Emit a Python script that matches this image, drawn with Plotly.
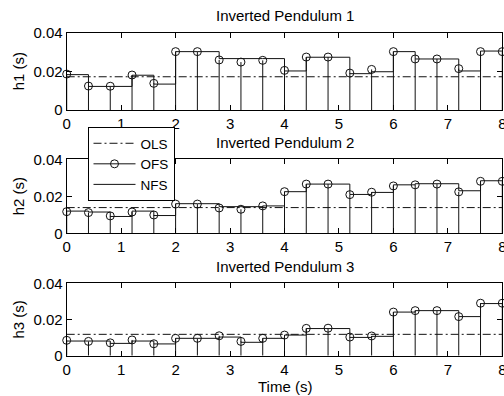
import plotly.graph_objects as go

W, H = 504, 396

# ---------------- data ----------------
t = [round(0.4 * i, 1) for i in range(21)]

titles = ["Inverted Pendulum 1", "Inverted Pendulum 2", "Inverted Pendulum 3"]
ylabels = ["h1 (s)", "h2 (s)", "h3 (s)"]

ols = [0.0172, 0.0139, 0.0118]

ofs1 = [0.0186, 0.0124, 0.0123, 0.0181, 0.0138, 0.0302, 0.0302, 0.0259, 0.0248, 0.0257, 0.0205,
        0.0274, 0.0274, 0.0191, 0.0210, 0.0302, 0.0264, 0.0264, 0.0214, 0.0302, 0.0302]
nfs1 = [0.0183, 0.0122, 0.0122, 0.0180, 0.0134, 0.0302, 0.0302, 0.0266, 0.0266, 0.0266, 0.0202,
        0.0273, 0.0273, 0.0188, 0.0198, 0.0302, 0.0264, 0.0264, 0.0202, 0.0305, 0.0305]

ofs2 = [0.0117, 0.0112, 0.0094, 0.0115, 0.0099, 0.0158, 0.0158, 0.0137, 0.0130, 0.0148, 0.0225,
        0.0266, 0.0266, 0.0209, 0.0222, 0.0256, 0.0262, 0.0266, 0.0224, 0.0281, 0.0281]
nfs2 = [0.0120, 0.0115, 0.0091, 0.0120, 0.0096, 0.0160, 0.0160, 0.0144, 0.0144, 0.0148, 0.0225,
        0.0266, 0.0266, 0.0210, 0.0221, 0.0262, 0.0268, 0.0268, 0.0230, 0.0284, 0.0284]

ofs3 = [0.0085, 0.0079, 0.0071, 0.0087, 0.0066, 0.0096, 0.0096, 0.0110, 0.0079, 0.0096, 0.0114,
        0.0151, 0.0152, 0.0103, 0.0109, 0.0241, 0.0249, 0.0249, 0.0216, 0.0290, 0.0290]
nfs3 = [0.0081, 0.0081, 0.0068, 0.0081, 0.0065, 0.0096, 0.0096, 0.0103, 0.0074, 0.0096, 0.0114,
        0.0150, 0.0150, 0.0101, 0.0107, 0.0241, 0.0249, 0.0249, 0.0216, 0.0288, 0.0288]

ofs_all = [ofs1, ofs2, ofs3]
nfs_all = [nfs1, nfs2, nfs3]

x_ticks = [0, 1, 2, 3, 4, 5, 6, 7, 8]
y_ticks = [0, 0.02, 0.04]
y_ticktext = ["0", "0.02", "0.04"]

# ---------------- layout helpers ----------------
FONT = "Liberation Sans, Arial, sans-serif"
FS = 15
INK = "#111111"
DASHDOT = "8px,3px,2px,3px"

def px_x(p):
    return p / W

def px_y(p):
    return 1 - p / H

# pixel boxes of the three axes (top, bottom)
boxes = [(32.7, 110.0), (159.3, 233.3), (283.3, 355.7)]
x_left, x_right = 66.7, 502.3

fig = go.Figure()

for i in range(3):
    xa = "x" if i == 0 else f"x{i+1}"
    ya = "y" if i == 0 else f"y{i+1}"
    ofs, nfs = ofs_all[i], nfs_all[i]

    # OLS: constant dash-dot line
    fig.add_trace(go.Scatter(x=[t[0], t[-1]], y=[ols[i], ols[i]], mode="lines",
                             line=dict(color=INK, width=1, dash=DASHDOT),
                             xaxis=xa, yaxis=ya, showlegend=False, hoverinfo="skip"))
    # NFS: stairs
    fig.add_trace(go.Scatter(x=t, y=nfs, mode="lines", line=dict(color=INK, width=1, shape="hv"),
                             xaxis=xa, yaxis=ya, showlegend=False, hoverinfo="skip"))
    # OFS: stems
    sx, sy = [], []
    for tt, v in zip(t, ofs):
        sx += [tt, tt, None]
        sy += [0, v, None]
    fig.add_trace(go.Scatter(x=sx, y=sy, mode="lines", line=dict(color=INK, width=1),
                             xaxis=xa, yaxis=ya, showlegend=False, hoverinfo="skip"))
    fig.add_trace(go.Scatter(x=t, y=ofs, mode="markers",
                             marker=dict(symbol="circle-open", size=8, color=INK,
                                         line=dict(width=1, color=INK)),
                             xaxis=xa, yaxis=ya, showlegend=False, hoverinfo="skip",
                             cliponaxis=False))

    top, bot = boxes[i]
    axis_common = dict(showline=True, linecolor="black", linewidth=1, mirror="ticks",
                       ticks="inside", ticklen=5, tickwidth=1, tickcolor="black",
                       showgrid=False, zeroline=False, automargin=False,
                       ticklabeloverflow="allow",
                       tickfont=dict(family=FONT, size=FS, color="black"))
    fig.update_layout(**{
        ("xaxis" if i == 0 else f"xaxis{i+1}"): dict(
            domain=[px_x(x_left), px_x(x_right)], range=[0, 8], tickvals=x_ticks,
            anchor=ya, **axis_common),
        ("yaxis" if i == 0 else f"yaxis{i+1}"): dict(
            domain=[px_y(bot), px_y(top)], range=[0, 0.04], tickvals=y_ticks,
            ticktext=y_ticktext, anchor=xa, **axis_common),
    })

    # panel title
    fig.add_annotation(text=titles[i], xref="paper", yref="paper",
                       x=px_x((x_left + x_right) / 2), y=px_y(top - 17),
                       xanchor="center", yanchor="middle", showarrow=False,
                       font=dict(family=FONT, size=FS, color="black"))
    # y label
    fig.add_annotation(text=ylabels[i], xref="paper", yref="paper",
                       x=px_x(18), y=px_y((top + bot) / 2), textangle=-90,
                       xanchor="center", yanchor="middle", showarrow=False,
                       font=dict(family=FONT, size=FS, color="black"))

fig.add_annotation(text="Time (s)", xref="paper", yref="paper",
                   x=px_x((x_left + x_right) / 2), y=px_y(386),
                   xanchor="center", yanchor="middle", showarrow=False,
                   font=dict(family=FONT, size=FS, color="black"))

# legend-only traces
fig.add_trace(go.Scatter(x=[None], y=[None], mode="lines", name="OLS",
                         line=dict(color=INK, width=1, dash=DASHDOT)))
fig.add_trace(go.Scatter(x=[None], y=[None], mode="lines+markers", name="OFS",
                         line=dict(color=INK, width=1),
                         marker=dict(symbol="circle-open", size=8, color=INK,
                                     line=dict(width=1, color=INK))))
fig.add_trace(go.Scatter(x=[None], y=[None], mode="lines", name="NFS",
                         line=dict(color=INK, width=1)))

fig.update_layout(
    width=W, height=H,
    margin=dict(l=0, r=0, t=0, b=0),
    paper_bgcolor="white", plot_bgcolor="white",
    font=dict(family=FONT, size=FS, color="black"),
    showlegend=True,
    legend=dict(x=px_x(87.5), y=px_y(127), xanchor="left", yanchor="top",
                bgcolor="white", bordercolor="black", borderwidth=1,
                font=dict(family=FONT, size=13.5, color="black"),
                tracegroupgap=0, itemwidth=42),
)

fig.write_html("out.html",
               post_script="document.body.style.margin='0';document.body.style.overflow='hidden';")
